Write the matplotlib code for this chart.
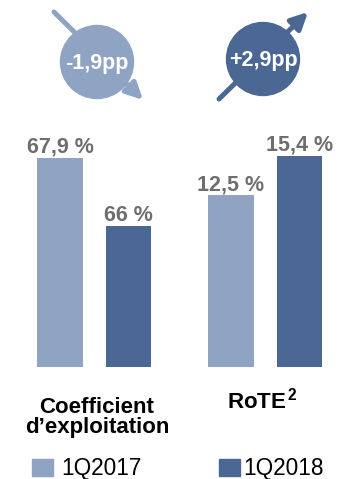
import matplotlib
matplotlib.use("Agg")
import matplotlib.pyplot as plt
from matplotlib.patches import Circle, FancyArrowPatch

plt.rcParams['font.family'] = ['Liberation Sans', 'DejaVu Sans']

# data
periods = ["1Q2017", "1Q2018"]
coef_values = [67.9, 66.0]
coef_labels = ["67,9 %", "66 %"]
rote_values = [12.5, 15.4]
rote_labels = ["12,5 %", "15,4 %"]
categories = ["Coefficient\nd\u2019exploitation", "RoTE$^{\\,\\mathregular{2}}$"]
delta_labels = ["-1,9pp", "+2,9pp"]

light = "#8fa3c3"
dark = "#4b6894"
grey = "#6e6e6e"
colors = [light, dark]

W, H = 339, 479
fig = plt.figure(figsize=(W / 100, H / 100), dpi=100)


def px_axes(x0, y0, x1, y1):
    # rectangle given in pixels from top-left
    return fig.add_axes([x0 / W, 1 - y1 / H, (x1 - x0) / W, (y1 - y0) / H])


ax1 = px_axes(18.9, 110, 169.6, 367)
ax2 = px_axes(189.9, 110, 340.6, 367)

for ax, vals, labs, lim in [(ax1, coef_values, coef_labels, (62.05, 69.23)),
                            (ax2, rote_values, rote_labels, (0, 18.73))]:
    xs = range(len(vals))
    ax.bar(xs, [v - lim[0] for v in vals], bottom=lim[0], width=0.67,
           color=colors)
    for x, v, t in zip(xs, vals, labs):
        ax.text(x, v, t, ha="center", va="bottom", fontsize=15.5,
                fontweight="bold", color=grey)
    ax.set_xlim(-0.6, 1.6)
    ax.set_ylim(*lim)
    ax.axis("off")

# overlay in pixel coordinates for circles, arrows, labels and legend
ov = fig.add_axes([0, 0, 1, 1])
ov.set_xlim(0, W)
ov.set_ylim(H, 0)
ov.axis("off")

deltas = [coef_values[1] - coef_values[0], rote_values[1] - rote_values[0]]
circ = [((97, 62), light), ((263, 59), dark)]
for d, lab, (c, col) in zip(deltas, delta_labels, circ):
    if d < 0:
        start, end = (c[0] - 43, c[1] - 50), (c[0] + 46, c[1] + 38)
    else:
        start, end = (c[0] - 44, c[1] + 40), (c[0] + 45, c[1] - 47)
    ov.add_patch(FancyArrowPatch(start, end, arrowstyle="-|>,head_length=1.0,head_width=0.5",
                                 color=col, lw=3.6, mutation_scale=10, shrinkA=0, shrinkB=0))
    ov.add_patch(Circle(c, 36.5, color=col, zorder=3))
    ov.text(c[0], c[1] + 1, lab, ha="center", va="center", fontsize=15.5,
            fontweight="bold", color="white", zorder=4)

ov.text(97, 433, categories[0], ha="center", va="baseline", fontsize=16,
        fontweight="bold", color="black", linespacing=0.95)
ov.text(262, 409, categories[1], ha="center", va="baseline", fontsize=16,
        fontweight="bold", color="black")

# legend
for (sx, tx), p, col in zip([(32, 61), (219, 243)], periods, colors):
    ov.add_patch(plt.Rectangle((sx, 459), 20.5, 17, color=col))
    ov.text(tx, 475, p, ha="left", va="baseline", fontsize=16.3, color="black")

fig.savefig("out.png", dpi=100)
